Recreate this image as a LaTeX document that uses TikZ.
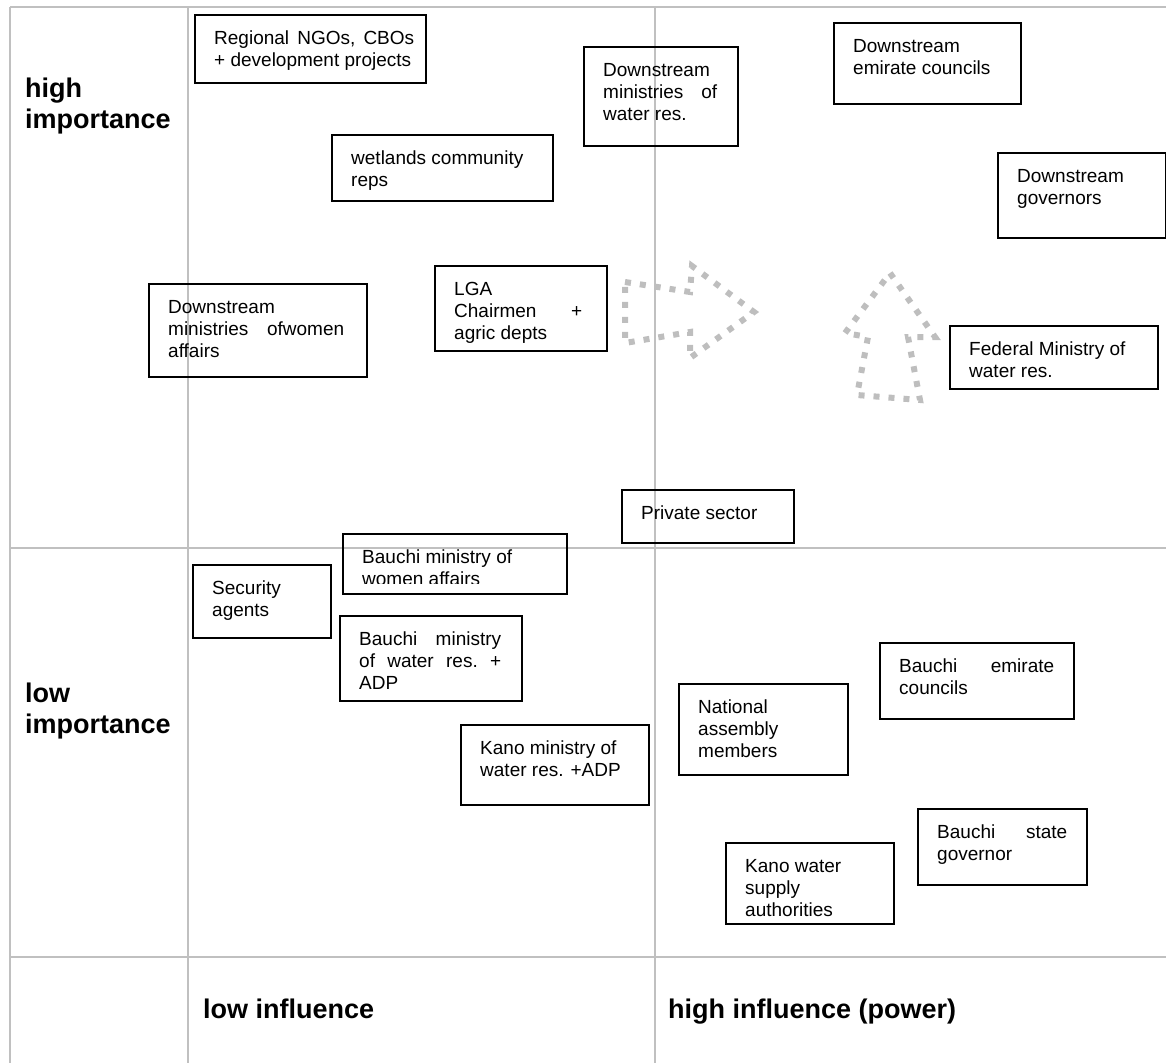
\documentclass[tikz,border=0pt]{standalone}
\usepackage{fontspec}
\setmainfont{Liberation Sans}
\definecolor{gridgray}{RGB}{192,192,192}
\definecolor{dotgray}{RGB}{190,190,190}
\tikzset{
  gridline/.style={draw=gridgray, line width=2pt},
  stakebox/.style={draw=black, line width=1.5pt, inner sep=0pt, rectangle},
  stxt/.style={inner sep=0pt, font=\fontsize{19}{22}\selectfont},
  axlbl/.style={inner sep=0pt, font=\fontsize{27}{31}\selectfont\bfseries},
  dotarrow/.style={draw=dotgray, line width=6pt, dash pattern=on 6pt off 9pt},
}
\newcommand{\stk}[7]{%
  \node[stakebox, minimum width=#4pt, minimum height=#5pt, anchor=north west] (#1) at (#2,#3) {};
  \node[stxt, anchor=base west] (#1t) at ([shift={(20,30)}]#1.north west) {\parbox[t]{#6pt}{#7}};
}
\newcommand{\stkc}[8]{%
  \node[stakebox, minimum width=#4pt, minimum height=#5pt, anchor=north west] (#1) at (#2,#3) {};
  \begin{scope}
    \clip (#2,#3) rectangle ++(#4,#8);
    \node[stxt, anchor=base west] (#1t) at ([shift={(20,30)}]#1.north west) {\parbox[t]{#6pt}{#7}};
  \end{scope}
}
\begin{document}
\begin{tikzpicture}[x=1pt, y=-1pt]
\useasboundingbox (0,0) rectangle (1166,1063);
% grid
\draw[gridline] (10,7) -- (1166,7);
\draw[gridline] (10,548) -- (1166,548);
\draw[gridline] (10,957) -- (1166,957);
\draw[gridline] (10,7) -- (10,1063);
\draw[gridline] (188,7) -- (188,1063);
\draw[gridline] (655,7) -- (655,1063);
% axis labels
\node[axlbl, anchor=base west] (hiimp) at (25,97) {\parbox[t]{200pt}{high\\importance}};
\node[axlbl, anchor=base west] (loimp) at (25,702) {\parbox[t]{200pt}{low\\importance}};
\node[axlbl, anchor=base west] (loinf) at (203,1018) {low influence};
\node[axlbl, anchor=base west] (hiinf) at (668,1018) {high influence (power)};
% dotted arrows
\draw[dotarrow] (625,282) -- (690,292) -- (692,266) -- (754,312) -- (690,358) -- (690,332) -- (625,343) -- cycle;
\draw[dotarrow] (890,273) -- (935,337) -- (908,337) -- (920,400) -- (857,395) -- (868,337) -- (845,333) -- cycle;
% stakeholder boxes
\stk{ngo}{194}{14}{231}{68}{200}{Regional\hfill NGOs,\hfill CBOs\\+ development projects}
\stk{dmw}{583}{46}{154}{99}{114}{Downstream\\ministries\hfill of\\water res.}
\stk{dec}{833}{22}{187}{81}{150}{Downstream\\emirate councils}
\stk{dgov}{997}{152}{168}{85}{130}{Downstream\\governors}
\stk{wet}{331}{134}{221}{66}{190}{wetlands community\\reps}
\stkc{lga}{434}{265}{172}{85}{128}{LGA\\Chairmen\hfill +\\agric depts}{82}
\stk{dmwa}{148}{283}{218}{93}{176}{Downstream\\ministries\hfill ofwomen\\affairs}
\stk{fed}{949}{325}{208}{63}{180}{Federal Ministry of\\water res.}
\stk{priv}{621}{489}{172}{53}{140}{Private sector}
\stkc{bwom}{342}{533}{224}{60}{190}{Bauchi ministry of\\women affairs}{50}
\stk{sec}{192}{564}{138}{73}{110}{Security\\agents}
\stk{bwat}{339}{615}{182}{85}{142}{Bauchi\hfill ministry\\of\hfill water\hfill res.\hfill +\\ADP}
\stk{kmw}{460}{724}{188}{80}{160}{Kano ministry of\\water res. +ADP}
\stk{nam}{678}{683}{169}{91}{140}{National\\assembly\\members}
\stk{bem}{879}{642}{194}{76}{155}{Bauchi\hfill emirate\\councils}
\stk{bsg}{917}{808}{169}{76}{130}{Bauchi\hfill state\\governor}
\stk{kws}{725}{842}{168}{81}{140}{Kano water\\supply\\authorities}
\end{tikzpicture}
\end{document}
